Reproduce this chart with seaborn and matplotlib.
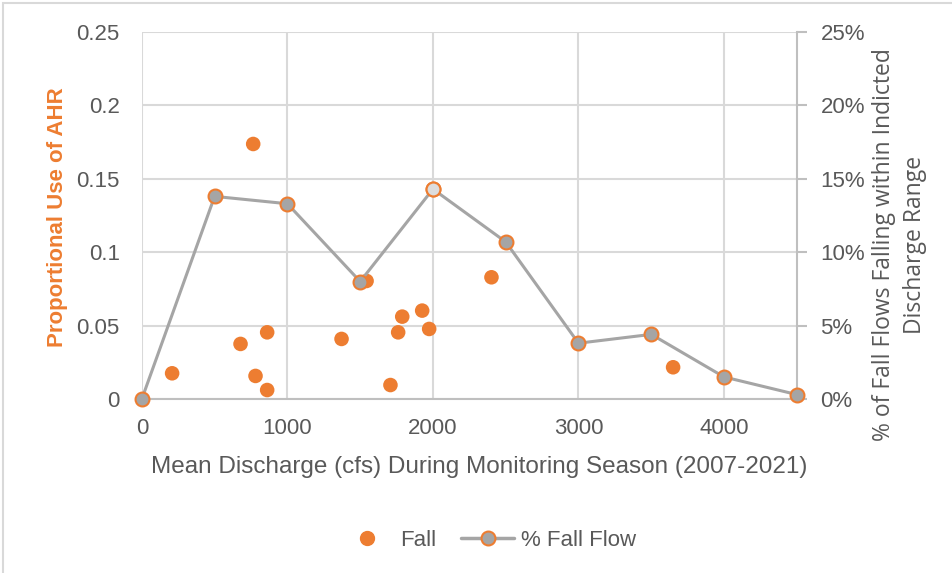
import pandas as pd
import matplotlib.pyplot as plt
import seaborn as sns
from matplotlib.lines import Line2D
from matplotlib.patches import Rectangle

# Fall scatter: mean discharge (cfs) vs proportional use of AHR
fall_cfs = [208, 765, 678, 861, 781, 861, 1372, 1544, 1708, 1761, 1789, 1926, 1974, 2402, 3650]
fall_use = [0.0175, 0.1737, 0.0375, 0.0454, 0.0157, 0.0061, 0.0409, 0.0804, 0.0095,
            0.0454, 0.0561, 0.0602, 0.0477, 0.0829, 0.0216]

# % of fall flows within each discharge bin
flow_cfs = [0, 500, 1000, 1500, 2000, 2500, 3000, 3500, 4000, 4500]
flow_pct = [0.0, 0.138, 0.133, 0.080, 0.143, 0.107, 0.038, 0.044, 0.015, 0.003]

x_ticks = [0, 1000, 2000, 3000, 4000]
y_ticks = [0, 0.05, 0.1, 0.15, 0.2, 0.25]
y_tick_labels = ["0", "0.05", "0.1", "0.15", "0.2", "0.25"]
pct_tick_labels = ["0%", "5%", "10%", "15%", "20%", "25%"]

df_fall = pd.DataFrame({"cfs": fall_cfs, "use": fall_use})
df_flow = pd.DataFrame({"cfs": flow_cfs, "pct": flow_pct})

ORANGE = "#ED7D31"
GREY = "#A5A5A5"
TEXT = "#595959"
GRID = "#D9D9D9"

sns.set_style("white")
plt.rcParams["font.family"] = ["Liberation Sans", "DejaVu Sans"]

fig = plt.figure(figsize=(9.52, 5.73), dpi=100)
ax = fig.add_axes([0.149, 0.3037, 0.688, 0.6405])
ax2 = ax.twinx()

sns.scatterplot(x="cfs", y="use", data=df_fall, ax=ax, color=ORANGE, s=110,
                edgecolor="none", zorder=3, legend=False)
sns.lineplot(x="cfs", y="pct", data=df_flow, ax=ax2, color=GREY, linewidth=2.2,
             marker="o", markersize=10, markerfacecolor=GREY, markeredgecolor=ORANGE,
             markeredgewidth=1.5, clip_on=False, zorder=4)
# the 2000 cfs point is shown with a lighter fill in the original
sns.scatterplot(x="cfs", y="pct", data=df_flow[df_flow["cfs"] == 2000], ax=ax2,
                color="#DDDDDD", s=100, edgecolor=ORANGE, linewidth=1.5, zorder=5, legend=False)

ax.set_xlim(0, 4500)
ax.set_ylim(0, 0.25)
ax2.set_ylim(0, 0.25)
ax.set_xticks(x_ticks)
ax.set_yticks(y_ticks)
ax.set_yticklabels(y_tick_labels)
ax2.set_yticks(y_ticks)
ax2.set_yticklabels(pct_tick_labels)

ax.grid(True, color=GRID, linewidth=1.5)
ax.set_axisbelow(True)
for a in (ax, ax2):
    for side in ["top", "left", "right", "bottom"]:
        a.spines[side].set_visible(False)
ax.spines["bottom"].set_visible(True)
ax.spines["bottom"].set_color("#BFBFBF")
ax.spines["bottom"].set_linewidth(1.5)
ax2.spines["right"].set_visible(True)
ax2.spines["right"].set_color("#BFBFBF")
ax2.spines["right"].set_linewidth(1.5)

ax.tick_params(axis="both", length=0, labelsize=16, labelcolor=TEXT, pad=16)
ax.tick_params(axis="x", pad=14)
ax2.tick_params(axis="y", length=7, width=1.5, color="#BFBFBF", labelsize=16,
                labelcolor=TEXT, pad=10)

ax.set_xlabel("Mean Discharge (cfs) During Monitoring Season (2007-2021)",
              fontsize=17.5, color=TEXT, labelpad=12)
ax.xaxis.set_label_coords(0.515, -0.155)
ax.set_ylabel("Proportional Use of AHR", fontsize=16, color=ORANGE, weight="bold")
ax.yaxis.set_label_coords(-0.113, 0.495)
ax2.set_ylabel("% of Fall Flows Falling within Indicted\nDischarge Range", fontsize=16.5,
               color=TEXT, family=["Open Sans", "DejaVu Sans"], linespacing=1.4)
ax2.yaxis.set_label_coords(1.115, 0.42)

handles = [
    Line2D([], [], linestyle="none", marker="o", markersize=10, color=ORANGE),
    Line2D([], [], color=GREY, linewidth=2.5, marker="o", markersize=10,
           markerfacecolor=GREY, markeredgecolor=ORANGE, markeredgewidth=1.5),
]
fig.legend(handles, ["Fall", "% Fall Flow"], loc="center", bbox_to_anchor=(0.513, 0.057),
           ncol=2, frameon=False, fontsize=16, labelcolor=TEXT, handlelength=2.4,
           columnspacing=1.1, handletextpad=0.3)

fig.patches.append(Rectangle((0.003, -0.01), 1.5, 1.004, transform=fig.transFigure,
                             fill=False, edgecolor=GRID, linewidth=1.5))

fig.savefig("out.png", dpi=100)
